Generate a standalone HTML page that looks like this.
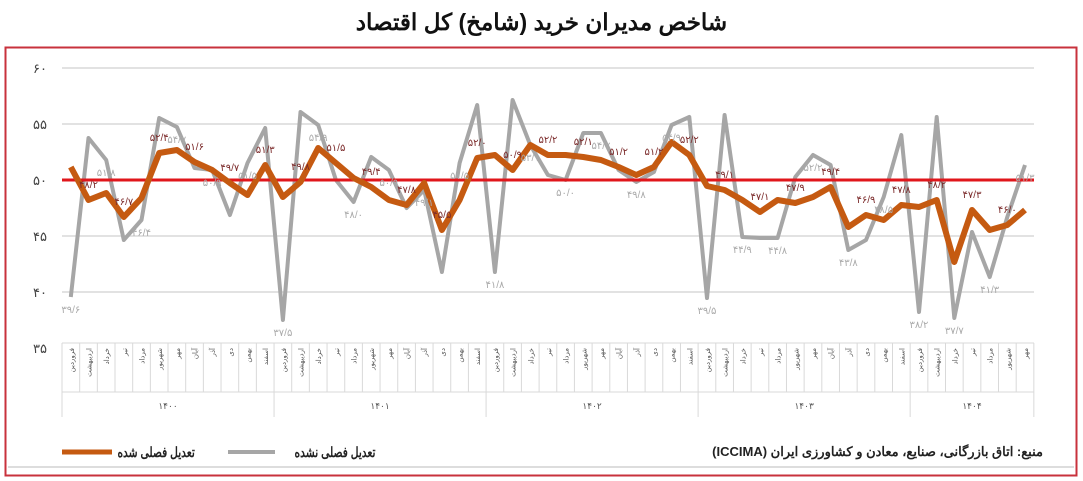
<!DOCTYPE html>
<html><head><meta charset="utf-8">
<style>
html,body{margin:0;padding:0;background:#fff;width:1083px;height:481px;overflow:hidden;font-family:"Liberation Sans","Noto Sans CJK SC",sans-serif}
.t{position:absolute;direction:rtl;white-space:nowrap;font-weight:bold;color:#222;font-size:14px;line-height:16px}
.sc{transform:scaleX(0.76);transform-origin:right center}
</style></head><body>
<svg id="s" width="1083" height="481" xmlns="http://www.w3.org/2000/svg" style="position:absolute;left:0;top:0" font-family="Liberation Sans, Noto Sans CJK SC, DejaVu Sans, sans-serif">
<rect x="5.5" y="47.5" width="1071" height="428" fill="none" stroke="#c8323c" stroke-width="2"/>
<g id="grid"></g>
<g id="axis" font-size="13" fill="#444"></g>
<polyline id="gray" fill="none" stroke="#a6a6a6" stroke-width="4" stroke-linejoin="round"/>
<line x1="62" y1="180" x2="1034" y2="180" stroke="#e0161b" stroke-width="3"/>
<polyline id="orange" fill="none" stroke="#c55a11" stroke-width="6" stroke-linejoin="round"/>
<g id="labels" font-size="10"></g>
<g id="cats" font-size="7" fill="#555"></g>
<line x1="62" y1="452" x2="112" y2="452" stroke="#c55a11" stroke-width="5"/>
<line x1="228" y1="452" x2="275" y2="452" stroke="#a6a6a6" stroke-width="4"/>
<line x1="8" y1="467" x2="1074" y2="467" stroke="#bbb" stroke-width="1"/>
</svg>
<div class="t" style="left:0;width:1083px;top:9px;text-align:center;font-size:23px;line-height:26px;color:#111">شاخص مدیران خرید (شامخ) کل اقتصاد</div>
<div class="t sc" style="right:888px;top:444px">تعدیل فصلی شده</div>
<div class="t sc" style="right:708px;top:444px">تعدیل فصلی نشده</div>
<div class="t" style="right:40px;top:444px;font-size:13px">منبع: اتاق بازرگانی، صنایع، معادن و کشاورزی ایران (ICCIMA)</div>
<script>
var NS="http://www.w3.org/2000/svg";
function el(p,t,a,txt){var e=document.createElementNS(NS,t);for(var k in a)e.setAttribute(k,a[k]);if(txt)e.textContent=txt;p.appendChild(e);return e;}
var g=document.getElementById('grid'),ax=document.getElementById('axis');
var yl=["۶۰","۵۵","۵۰","۴۵","۴۰","۳۵"];
for(var i=0;i<6;i++){var y=68+56*i;if(i<5)el(g,'line',{x1:62,x2:1034,y1:y,y2:y,stroke:'#d9d9d9','stroke-width':1.5});el(ax,'text',{x:40,y:y+5,'text-anchor':'middle'},yl[i]);}
var gy=[297,138,160,240,220,118,127,168,170,215,163,128,320,112,125,180,202,157,170,208,190,272,163,105,272,100,145,175,180,133,133,170,182,172,125,117,298,115,237,238,238,177,155,165,250,240,197,135,312,117,318,232,277,217,165];
var oy=[167,200,193,217,198,153,150,162,170,183,195,165,197,182,148,163,178,187,200,205,183,230,200,158,155,170,145,155,155,157,160,167,175,167,142,155,186,190,200,212,200,203,197,187,227,215,220,205,207,200,262,210,230,225,210];
var W=17.67,X0=62;
function pts(a){return a.map(function(v,i){return (X0+W*(i+.5)).toFixed(1)+","+v}).join(" ");}
document.getElementById('gray').setAttribute('points',pts(gy));
document.getElementById('orange').setAttribute('points',pts(oy));
var fa="۰۱۲۳۴۵۶۷۸۹";
function pd(v){v=(Math.round((50-(v-180)/11.2)*10)/10).toFixed(1);return v.replace(/\d/g,function(d){return fa[d]}).replace('.','/');}
var L=document.getElementById('labels');
for(var i=0;i<55;i++){
 var x=X0+W*(i+.5);
 if(i%2==0){el(L,'text',{x:x,y:gy[i]+16,'text-anchor':'middle',fill:'#aaa'},pd(gy[i]));}
 else{el(L,'text',{x:x,y:oy[i]-12,'text-anchor':'middle',fill:'#7b2a2a'},pd(oy[i]));}
}
var C=document.getElementById('cats');
var m=["فروردین","اردیبهشت","خرداد","تیر","مرداد","شهریور","مهر","آبان","آذر","دی","بهمن","اسفند"];
var yrs=["۱۴۰۰","۱۴۰۱","۱۴۰۲","۱۴۰۳","۱۴۰۴"];
el(C,'line',{x1:62,x2:1034,y1:343,y2:343,stroke:'#d9d9d9'});
for(var i=0;i<=55;i++){var x=X0+W*i;var yr=(i%12==0||i==55);el(C,'line',{x1:x,x2:x,y1:343,y2:yr?417:392,stroke:'#d9d9d9'});}
el(C,'line',{x1:62,x2:1034,y1:392,y2:392,stroke:'#d9d9d9'});
for(var i=0;i<55;i++){var x=X0+W*(i+.5)+3;el(C,'text',{x:0,y:0,transform:'translate('+x+',348) rotate(-90)','text-anchor':'end'},m[i%12]);}
for(var k=0;k<5;k++){var s=X0+W*12*k,e=Math.min(X0+W*12*(k+1),X0+W*55);el(C,'text',{x:(s+e)/2,y:409,'text-anchor':'middle','font-size':9},yrs[k]);}
</script>
</body></html>
